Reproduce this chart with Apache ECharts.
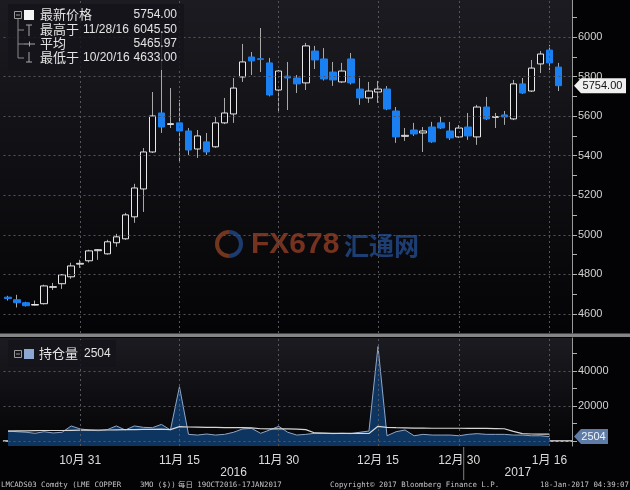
<!DOCTYPE html>
<html><head><meta charset="utf-8">
<script src="https://cdn.jsdelivr.net/npm/echarts@6/dist/echarts.min.js"></script>
<style>html,body{margin:0;padding:0;background:#030305;}#c{width:630px;height:490px;}</style>
</head><body><div id="c"></div>
<script>
// ---------- DATA ----------
const dates = ['2016-10-19','2016-10-20','2016-10-21','2016-10-24','2016-10-25','2016-10-26','2016-10-27','2016-10-28','2016-10-31',
'2016-11-01','2016-11-02','2016-11-03','2016-11-04','2016-11-07','2016-11-08','2016-11-09','2016-11-10','2016-11-11',
'2016-11-14','2016-11-15','2016-11-16','2016-11-17','2016-11-18','2016-11-21','2016-11-22','2016-11-23','2016-11-24','2016-11-25',
'2016-11-28','2016-11-29','2016-11-30','2016-12-01','2016-12-02','2016-12-05','2016-12-06','2016-12-07','2016-12-08','2016-12-09',
'2016-12-12','2016-12-13','2016-12-14','2016-12-15','2016-12-16','2016-12-19','2016-12-20','2016-12-21','2016-12-22','2016-12-23',
'2016-12-28','2016-12-29','2016-12-30','2017-01-03','2017-01-04','2017-01-05','2017-01-06','2017-01-09','2017-01-10','2017-01-11',
'2017-01-12','2017-01-13','2017-01-16','2017-01-17'];
const open  = [4685,4672,4657,4645,4652,4735,4753,4788,4852,4869,4920,4904,4960,4980,5091,5232,5419,5616,5558,5566,
               5525,5434,5470,5445,5566,5611,5798,5899,5890,5869,5732,5802,5793,5768,5929,5889,5823,5773,5889,5737,
               5692,5722,5737,5626,5498,5530,5515,5545,5566,5525,5495,5545,5495,5646,5594,5606,5586,5763,5727,5864,
               5934,5848];
const close = [4678,4657,4642,4648,4742,4738,4798,4843,4856,4919,4925,4965,4990,5101,5237,5419,5601,5545,5562,5525,
               5429,5500,5419,5566,5616,5742,5874,5879,5887,5707,5828,5793,5763,5955,5884,5788,5783,5828,5768,5692,
               5727,5737,5636,5495,5503,5510,5525,5470,5540,5490,5540,5500,5646,5586,5598,5596,5763,5717,5843,5914,
               5869,5754];
const low   = [4668,4633,4638,4643,4648,4722,4727,4778,4833,4860,4874,4900,4940,4975,5061,5116,5414,5515,5540,5364,
               5404,5389,5404,5440,5560,5566,5773,5808,5823,5700,5616,5631,5717,5732,5838,5780,5753,5768,5760,5657,
               5667,5667,5630,5465,5475,5500,5419,5465,5535,5480,5490,5480,5455,5580,5540,5556,5580,5712,5722,5818,
               5833,5727];
const high  = [4692,4697,4662,4668,4748,4757,4802,4859,4874,4925,4928,4975,5005,5111,5258,5439,5722,6030,5742,5682,
               5540,5530,5515,5596,5692,5793,5965,5924,6045.5,5894,5833,5874,5808,5970,5955,5944,5874,5869,5919,5793,
               5773,5778,5752,5646,5540,5566,5545,5571,5596,5571,5555,5616,5657,5697,5616,5626,5783,5793,5884,5929,
               5960,5869];
// open interest (持仓量) and the light reference line in the lower panel
const openInterest = [5700,5300,5000,4400,5300,4600,5000,8600,6900,6300,5900,6500,8600,6300,8600,7800,7600,9500,6300,31000,
               3800,3400,4000,3400,3800,5000,6900,7200,4400,6300,8400,5000,3400,3800,4400,4400,4200,4400,4200,5000,
               5700,54000,3000,5300,6300,3000,3800,3400,3400,3400,3000,3800,4200,3800,3800,3800,3400,3400,3000,3000,
               2504,null];
const oiRefLine = [5700,5800,5800,5900,6000,6000,6000,6100,6200,6200,6300,6300,6400,6500,6500,6600,6700,6800,6500,8200,
               8000,7900,7800,7800,7700,7700,7600,7500,7000,6900,6900,6900,6800,6500,4600,4500,4400,4400,4400,4400,
               4300,8400,7800,7600,7500,7400,7400,7300,7300,7300,7300,7200,7200,7200,7100,7000,5500,4200,4000,3900,
               3900,null];
const priceLabelTicks = [4600,4800,5000,5200,5400,5600,5800,6000];
const priceAllTicks = [4600,4700,4800,4900,5000,5100,5200,5300,5400,5500,5600,5700,5800,5900,6000,6100];
const oiLabelTicks = [20000,40000];
const oiAllTicks = [0,10000,20000,30000,40000,50000];
const oiGridTicks = [0,20000,40000];
const dateTicks = ['2016-10-31','2016-11-15','2016-11-30','2016-12-15','2016-12-30','2017-01-16'];
const dateTickLabels = ['10月 31','11月 15','11月 30','12月 15','12月 30','1月 16'];
const yearLabels = ['2016','2017'];
const summaryNames = ['最新价格','最高于','平均','最低于'];
const summaryDates = ['','11/28/16','','10/20/16'];
const summaryValues = ['5754.00','6045.50','5465.97','4633.00'];
const oiName = '持仓量';
const footer = ['LMCADS03 Comdty (LME COPPER','3MO ($))','每日 19OCT2016-17JAN2017','Copyright\u00A9 2017 Bloomberg Finance L.P.','18-Jan-2017 04:39:07'];

// ---------- CHART ----------
const UI = "'Liberation Sans','Noto Sans CJK SC',sans-serif";
const cats = dates.concat(['']);
const bodyData = dates.map((d,i)=>[open[i],close[i],Math.min(open[i],close[i]),Math.max(open[i],close[i])]);
const fullData = dates.map((d,i)=>[open[i],close[i],low[i],high[i]]);
const lastClose = close[close.length-1];
const lastOI = openInterest.filter(v=>v!=null).slice(-1)[0];
const gridLine = {color:'#55555c', type:[2,3], width:1};
const L = 3.5, R = 572;

const chart = echarts.init(document.getElementById('c'));
const option = {
  animation:false,
  backgroundColor:'#030305',
  grid:[{left:L, top:0, width:R-L, height:333},{left:L, top:338, width:R-L, height:108}],
  xAxis:[
    {gridIndex:0, type:'category', data:cats, boundaryGap:true, show:false},
    {gridIndex:1, type:'category', data:cats, boundaryGap:true,
     axisLine:{show:true, lineStyle:{color:'#e6e6e6', width:1.5}},
     axisTick:{show:true, inside:true, length:3, alignWithLabel:true, interval:(i,v)=>dateTicks.includes(v), lineStyle:{color:'#cfcfcf'}},
     axisLabel:{interval:(i,v)=>dateTicks.includes(v), formatter:v=>dateTickLabels[dateTicks.indexOf(v)]||'',
       color:'#dcdcdc', fontSize:12, fontFamily:UI, margin:9},
     splitLine:{show:false}}
  ],
  yAxis:[
    {gridIndex:0, type:'value', position:'right', min:4504, max:6187,
     axisLine:{show:true, lineStyle:{color:'#9a9a9a'}},
     axisTick:{show:true, length:5, customValues:priceAllTicks, lineStyle:{color:'#b0b0b0'}},
     axisLabel:{customValues:priceLabelTicks, formatter:v=>String(v), color:'#d2d2d2', fontSize:11, fontFamily:UI, margin:6},
     splitLine:{show:false}},
    {gridIndex:1, type:'value', position:'right', min:-2857, max:58857,
     axisLine:{show:true, lineStyle:{color:'#9a9a9a'}},
     axisTick:{show:true, length:5, customValues:oiAllTicks, lineStyle:{color:'#b0b0b0'}},
     axisLabel:{customValues:oiLabelTicks, formatter:v=>String(v), color:'#d2d2d2', fontSize:11, fontFamily:UI, margin:6},
     splitLine:{show:false}}
  ],
  series:[
    {type:'line', xAxisIndex:0, yAxisIndex:0, data:[], silent:true, z:1,
     markLine:{silent:true, symbol:['none','none'], label:{show:false}, lineStyle:gridLine,
       data: priceLabelTicks.map(v=>({yAxis:v})).concat(dateTicks.map(d=>({xAxis:d})))}},
    {type:'line', xAxisIndex:1, yAxisIndex:1, data:[], silent:true, z:1,
     markLine:{silent:true, symbol:['none','none'], label:{show:false}, lineStyle:gridLine,
       data: oiGridTicks.map(v=>({yAxis:v})).concat(dateTicks.map(d=>({xAxis:d})))}},
    {name:'wick', type:'candlestick', xAxisIndex:0, yAxisIndex:0, data:fullData, barWidth:1, z:2,
     itemStyle:{color:'#a8a8a8', color0:'#a8a8a8', borderColor:'#a8a8a8', borderColor0:'#a8a8a8', borderWidth:1}},
    {name:'最新价格', type:'candlestick', xAxisIndex:0, yAxisIndex:0, data:bodyData, barWidth:7, z:3,
     itemStyle:{color:'#0b0b10', color0:'#1a80f2', borderColor:'#e8e8e8', borderColor0:'#1a80f2', borderWidth:1}},
    {name:oiName, type:'line', xAxisIndex:1, yAxisIndex:1, data:openInterest, symbol:'none', z:2,
     lineStyle:{color:'#8ea6c8', width:1}, areaStyle:{color:'#0e3460', opacity:1, origin:'start'}},
    {name:'ref', type:'line', xAxisIndex:1, yAxisIndex:1, data:oiRefLine, symbol:'none', z:3,
     lineStyle:{color:'#d6d6d6', width:1.2}}
  ]
};
chart.setOption(option);

// ---------- GRAPHICS (panels, legends, labels) ----------
const px = d => chart.convertToPixel({xAxisIndex:1}, d);
const yearBoundary = (px(dates[50]) + px(dates[51])) / 2;
const yLast = chart.convertToPixel({yAxisIndex:0}, lastClose);
const yLastOI = chart.convertToPixel({yAxisIndex:1}, lastOI);
const g = [];
function panel(y,h){ g.push({type:'rect', z:-10, shape:{x:0,y:y,width:R,height:h},
  style:{fill:new echarts.graphic.LinearGradient(0,0,0,1,[{offset:0,color:'#1b1b21'},{offset:1,color:'#040406'}])}}); }
panel(0,333); panel(338,108);
g.push({type:'rect', z:50, shape:{x:0,y:333.5,width:630,height:3.5}, style:{fill:'#858585'}});
function txt(x,y,s,o){ const st = Object.assign({text:s, x:x, y:y, fill:'#e4e4e4', font:'13px '+UI, textAlign:'left', align:'left', textVerticalAlign:'middle', verticalAlign:'middle'}, o||{});
  g.push({type:'text', z:101, style:st}); }
function line(x1,y1,x2,y2,c,w){ g.push({type:'line', z:101, shape:{x1,y1,x2,y2}, style:{stroke:c||'#a8a8a8', lineWidth:w||1}}); }
function tag(y, s, bg, fg, w){
  const x2 = 581 + w;
  g.push({type:'polygon', z:101, shape:{points:[[574,y],[581,y-7.5],[x2,y-7.5],[x2,y+7.5],[581,y+7.5]]}, style:{fill:bg}});
  txt((579 + x2)/2, y+0.5, s, {font:'11px '+UI, fill:fg, textAlign:'center', align:'center'});
}
// watermark
g.push({type:'arc', z:1, shape:{cx:229,cy:244,r:12,startAngle:Math.PI*0.5,endAngle:Math.PI*1.5}, style:{stroke:'rgba(200,90,45,0.55)', lineWidth:4, fill:'none'}});
g.push({type:'arc', z:1, shape:{cx:229,cy:244,r:12,startAngle:-Math.PI*0.5,endAngle:Math.PI*0.5}, style:{stroke:'rgba(45,100,190,0.55)', lineWidth:4, fill:'none'}});
g.push({type:'text', z:1, style:{text:'FX678', x:251, y:245, fill:'rgba(205,85,48,0.55)', font:'bold 30px '+UI, textVerticalAlign:'middle', verticalAlign:'middle'}});
g.push({type:'text', z:1, style:{text:'汇通网', x:344, y:245, fill:'rgba(45,105,200,0.55)', font:'bold 25px "Noto Sans CJK SC"', textVerticalAlign:'middle', verticalAlign:'middle'}});
// top legend
g.push({type:'rect', z:100, shape:{x:8,y:4,width:176,height:66}, style:{fill:'rgba(20,20,26,0.82)'}});
g.push({type:'rect', z:101, shape:{x:14.5,y:11.5,width:7,height:7}, style:{stroke:'#9a9a9a', fill:'none', lineWidth:1}});
line(16,15,20,15,'#9a9a9a');
line(18,19,18,58,'#8a8a8a'); line(18,30,24,30,'#8a8a8a'); line(18,44,24,44,'#8a8a8a'); line(18,58,24,58,'#8a8a8a');
g.push({type:'rect', z:101, shape:{x:24,y:10,width:10,height:10}, style:{fill:'#f4f4f4'}});
line(26,25,32,25); line(29,25,29,36);
line(24,44,35,44); line(29.5,41.5,29.5,46.5);
line(29,52,29,62); line(26,62,32,62);
const rows = [15,30,44,58];
rows.forEach((y,i)=>{
  txt(40,y,summaryNames[i]);
  if (summaryDates[i]) txt(83,y,summaryDates[i],{font:'12px '+UI});
  txt(177,y,summaryValues[i],{font:'12px '+UI, textAlign:'right', align:'right'});
});
// lower legend
g.push({type:'rect', z:100, shape:{x:8,y:340,width:108,height:27}, style:{fill:'rgba(20,20,26,0.82)'}});
g.push({type:'rect', z:101, shape:{x:14.5,y:350.5,width:7,height:7}, style:{stroke:'#9a9a9a', fill:'none', lineWidth:1}});
line(16,354,20,354,'#9a9a9a');
g.push({type:'rect', z:101, shape:{x:24,y:349,width:10,height:10}, style:{fill:'#8ba7d2'}});
txt(39,354,oiName);
txt(84,354,String(lastOI),{font:'12px '+UI});
// last-value tags on the right axis
tag(yLast, lastClose.toFixed(2), '#f0f0f0', '#111', 45);
tag(yLastOI, String(lastOI), '#5f7ca6', '#eef3fb', 27);
// years
txt((L+yearBoundary)/2,473,yearLabels[0],{font:'12px '+UI, textAlign:'center', align:'center', fill:'#dcdcdc'});
txt((yearBoundary+R)/2,473,yearLabels[1],{font:'12px '+UI, textAlign:'center', align:'center', fill:'#dcdcdc'});
line(yearBoundary,447,yearBoundary,480,'#808080');
// footer
const FM = "7.4px 'DejaVu Sans Mono','Noto Sans CJK SC',monospace";
txt(1,485,footer[0],{font:FM, fill:'#c4c4c4'});
txt(140,485,footer[1],{font:FM, fill:'#c4c4c4'});
txt(178,485,footer[2],{font:FM, fill:'#c4c4c4'});
txt(330,485,footer[3],{font:FM, fill:'#c4c4c4'});
txt(629,485,footer[4],{font:FM, fill:'#c4c4c4', textAlign:'right', align:'right'});
chart.setOption({graphic:g});
</script></body></html>
